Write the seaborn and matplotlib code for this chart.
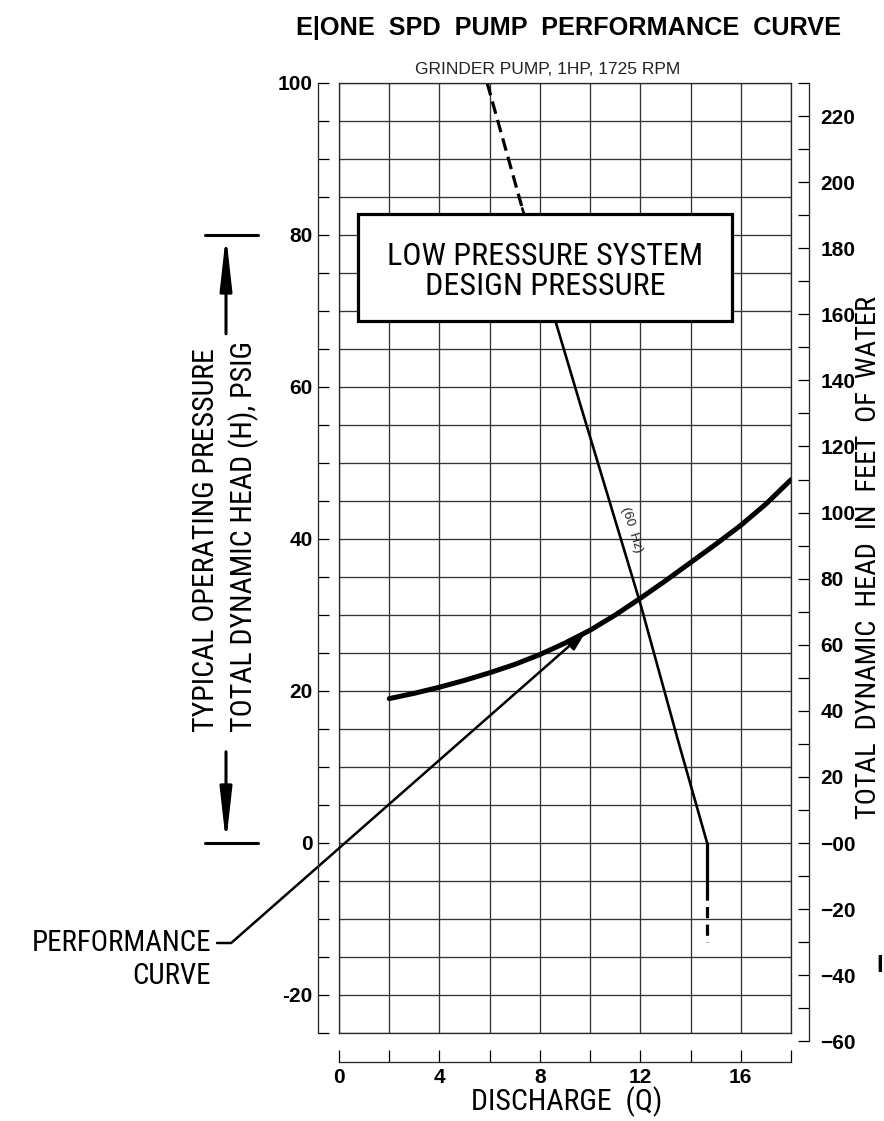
import matplotlib
matplotlib.use("Agg")
import matplotlib.pyplot as plt
from matplotlib import font_manager
from matplotlib.font_manager import FontProperties
from matplotlib.patches import Rectangle
import seaborn as sns

# pump curve (60 Hz), discharge Q vs pressure psig
pump_q = [5.9, 7.3, 8.5, 9.6, 12.0, 13.5, 14.66]
pump_psi = [100, 83.5, 70, 57.8, 31.5, 13.5, 0]
# shut-off tail below zero
tail_q = [14.66, 14.66, 14.66]
tail_psi = [0, -6, -13]

# performance (system) curve
system_q = [2, 3, 4, 5, 6, 7, 8, 9, 10, 11, 12, 13, 14, 15, 16, 17, 18]
system_psi = [19, 19.7, 20.5, 21.4, 22.4, 23.5, 24.8, 26.3, 28, 30, 32.2,
              34.5, 36.9, 39.3, 41.8, 44.6, 47.8]

# design pressure range (typical operating pressure)
design_psi = [0, 80]

psi_ticks = list(range(-25, 101, 5))
psi_label_vals = [100, 80, 60, 40, 20, 0, -20]
feet_ticks = list(range(-60, 231, 10))
feet_label_vals = [220, 200, 180, 160, 140, 120, 100, 80, 60, 40, 20, 0, -20, -40, -60]
feet_label_text = ["220", "200", "180", "160", "140", "120", "100", "80", "60",
                   "40", "20", "\u221200", "\u221220", "\u221240", "\u221260"]
q_ticks = list(range(0, 19, 2))
q_label_vals = [0, 4, 8, 12, 16]
FT_PER_PSI = 2.3

sns.set_theme(style="white")

# narrow sans for the drawing lettering, plain Liberation Sans if none is around
names = {f.name for f in font_manager.fontManager.ttflist}
narrow = None
for cand in ["Liberation Sans Narrow", "Arial Narrow", "Roboto Condensed",
             "Archivo Narrow", "PT Sans Narrow", "IBM Plex Sans Condensed",
             "Fira Sans Condensed"]:
    if cand in names:
        narrow = cand
        break
shrink = 1.0
if narrow is None:
    narrow, shrink = "Liberation Sans", 0.84

plt.rcParams["font.family"] = ["Liberation Sans", "DejaVu Sans"]
plt.rcParams["text.color"] = "black"

W, H = 884, 1121
L, R, T, B = 339, 791, 83, 1033  # plot box in pixels


def fx(x):
    return x / W


def fy(y):
    return 1 - y / H


def nfont(size):
    return FontProperties(family=[narrow, "DejaVu Sans"], weight="normal",
                          size=size * shrink)


def bfont(size):
    return FontProperties(family=["Liberation Sans", "DejaVu Sans"], weight="bold",
                          size=size)


fig = plt.figure(figsize=(W / 100, H / 100), dpi=100)
pos = [fx(L), fy(B), (R - L) / W, (B - T) / H]

# main grid box
ax = fig.add_axes(pos)
ax.set_xlim(0, 18)
ax.set_ylim(-25, 100)
ax.set_xticks(q_ticks)
ax.set_yticks(psi_ticks)
ax.tick_params(length=0, labelbottom=False, labelleft=False)
ax.grid(True, color="#333333", lw=0.95)
for s in ax.spines.values():
    s.set_color("#2a2a2a")
    s.set_linewidth(0.95)

# curves
sns.lineplot(x=pump_q[:2], y=pump_psi[:2], ax=ax, color="black", lw=2.3,
             linestyle=(0, (4, 2)), estimator=None, sort=False)
sns.lineplot(x=pump_q[1:], y=pump_psi[1:], ax=ax, color="black", lw=1.9,
             estimator=None, sort=False)
sns.lineplot(x=tail_q[:2], y=tail_psi[:2], ax=ax, color="black", lw=2.3,
             estimator=None, sort=False)
sns.lineplot(x=tail_q[1:], y=tail_psi[1:], ax=ax, color="black", lw=2.3,
             linestyle=(0, (3.5, 2)), estimator=None, sort=False)
sns.lineplot(x=system_q, y=system_psi, ax=ax, color="black", lw=3.6,
             estimator=None, sort=False)
ax.set_xlabel("")
ax.set_ylabel("")

# design pressure box
ax.add_patch(Rectangle((0.76, 68.7), 14.9, 14.1, facecolor="white",
                       edgecolor="black", lw=2.3, zorder=5))
ax.text(8.2, 75.2, "LOW PRESSURE SYSTEM\nDESIGN PRESSURE", ha="center", va="center",
        fontproperties=nfont(23), linespacing=1.05, zorder=6)

ax.text(11.65, 41.2, "(60  Hz)", rotation=-73, ha="center", va="center",
        fontproperties=FontProperties(family="Liberation Sans", size=9.5), color="#222")

# performance curve leader
ax.annotate("PERFORMANCE", xy=(system_q[8] - 0.15, system_psi[8] - 0.1),
            xytext=(fx(211), fy(943)), textcoords="figure fraction",
            ha="right", va="center", fontproperties=nfont(20.8),
            arrowprops=dict(arrowstyle="-|>,head_length=0.7,head_width=0.22",
                            connectionstyle="angle,angleA=0,angleB=41.3,rad=0",
                            relpos=(1, 0.5), shrinkA=2, shrinkB=0, lw=1.8,
                            color="black", mutation_scale=18),
            annotation_clip=False)
fig.text(fx(211), fy(976), "CURVE", ha="right", va="center", fontproperties=nfont(20.8))

# typical operating pressure dimension
xd = (226 - L) / (R - L) * 18
x0 = (205 - L) / (R - L) * 18
x1 = (258 - L) / (R - L) * 18
for p, q in [(design_psi[1], 67), (design_psi[0], 12)]:
    ax.annotate("", xy=(xd, p), xytext=(xd, q),
                arrowprops=dict(arrowstyle="-|>,head_length=1.6,head_width=0.18",
                                shrinkA=0, shrinkB=0, lw=2.2, color="black",
                                mutation_scale=20),
                annotation_clip=False)
    ax.plot([x0, x1], [p, p], color="black", lw=2.2, clip_on=False)

fig.text(fx(206), fy(540), "TYPICAL OPERATING PRESSURE", rotation=90,
         ha="center", va="center", fontproperties=nfont(21.5))
fig.text(fx(244), fy(537), "TOTAL DYNAMIC HEAD (H), PSIG", rotation=90,
         ha="center", va="center", fontproperties=nfont(21.5))

# left scale (psig)
axl = fig.add_axes(pos)
axl.patch.set_visible(False)
axl.set_ylim(-25, 100)
axl.set_xlim(0, 18)
axl.xaxis.set_visible(False)
for k in ["right", "top", "bottom"]:
    axl.spines[k].set_visible(False)
axl.spines["left"].set_position(("outward", 15))
axl.spines["left"].set_color("#2a2a2a")
axl.spines["left"].set_linewidth(0.95)
axl.set_yticks(psi_ticks)
axl.set_yticklabels([str(t) if t in psi_label_vals else "" for t in psi_ticks])
axl.tick_params(axis="y", direction="in", length=8, width=0.9, pad=4,
                colors="black", left=True)
for t in axl.get_yticklabels():
    t.set_fontproperties(bfont(15))

# right scale (feet of water)
ext = 2 * (B - T) / 125
axr = fig.add_axes([fx(L), fy(B + ext), (R - L) / W, (B + ext - T) / H])
axr.patch.set_visible(False)
axr.set_ylim(-27 * FT_PER_PSI, 100 * FT_PER_PSI)
axr.xaxis.set_visible(False)
for k in ["left", "top", "bottom"]:
    axr.spines[k].set_visible(False)
axr.spines["right"].set_position(("outward", 13))
axr.spines["right"].set_bounds(-60, 230)
axr.spines["right"].set_color("#2a2a2a")
axr.spines["right"].set_linewidth(0.95)
axr.yaxis.tick_right()
axr.set_yticks(feet_ticks)
ft_lab = dict(zip(feet_label_vals, feet_label_text))
axr.set_yticklabels([ft_lab.get(t, "") for t in feet_ticks])
axr.tick_params(axis="y", direction="in", length=8, width=0.9, pad=8,
                colors="black", right=True)
for t in axr.get_yticklabels():
    t.set_fontproperties(bfont(15))

# bottom scale (discharge)
axb = fig.add_axes(pos)
axb.patch.set_visible(False)
axb.set_xlim(0, 18)
axb.yaxis.set_visible(False)
for k in ["left", "right", "top"]:
    axb.spines[k].set_visible(False)
axb.spines["bottom"].set_position(("outward", 21))
axb.spines["bottom"].set_color("#2a2a2a")
axb.spines["bottom"].set_linewidth(0.95)
axb.set_xticks(q_ticks)
axb.set_xticklabels([str(t) if t in q_label_vals else "" for t in q_ticks])
axb.tick_params(axis="x", direction="in", length=8.6, width=0.9, pad=4,
                colors="black", bottom=True)
for t in axb.get_xticklabels():
    t.set_fontproperties(bfont(15))

fig.text(fx(567), fy(1102), "DISCHARGE  (Q)", ha="center", va="center",
         fontproperties=nfont(21.5))
fig.text(fx(869), fy(557), "TOTAL  DYNAMIC  HEAD  IN  FEET  OF  WATER", rotation=90,
         ha="center", va="center", fontproperties=nfont(20.5))

fig.text(fx(568), fy(28), "E|ONE  SPD  PUMP  PERFORMANCE  CURVE", ha="center",
         va="center", fontproperties=bfont(18.2))
fig.text(fx(548), fy(70), "GRINDER PUMP, 1HP, 1725 RPM", ha="center", va="center",
         fontproperties=FontProperties(family="Liberation Sans", size=12.5), color="#222")
fig.text(fx(876), fy(965), "I", ha="left", va="center", fontproperties=bfont(17))

fig.savefig("out.png", dpi=100)
